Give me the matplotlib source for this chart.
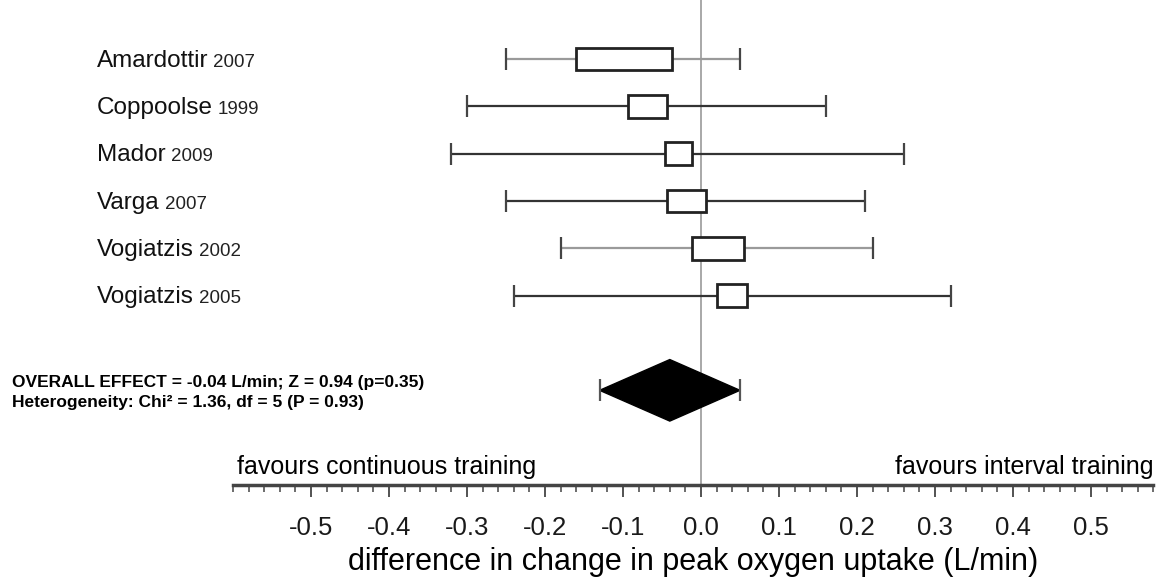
import matplotlib
matplotlib.use('Agg')
import matplotlib.pyplot as plt
from matplotlib import font_manager
from matplotlib.ticker import MultipleLocator

# études (nom, année) et intervalles
etudes = ['Amardottir', 'Coppoolse', 'Mador', 'Varga', 'Vogiatzis', 'Vogiatzis']
annees = ['2007', '1999', '2009', '2007', '2002', '2005']
ic_bas = [-0.25, -0.30, -0.32, -0.25, -0.18, -0.24]
ic_haut = [0.05, 0.16, 0.26, 0.21, 0.22, 0.32]
boite_bas = [-0.16, -0.094, -0.046, -0.044, -0.012, 0.021]
boite_haut = [-0.037, -0.044, -0.012, 0.006, 0.055, 0.059]
gris = [True, False, False, False, True, False]

# effet global
effet_est = -0.04
effet_bas = -0.13
effet_haut = 0.05

ticks_maj = [-0.5, -0.4, -0.3, -0.2, -0.1, 0.0, 0.1, 0.2, 0.3, 0.4, 0.5]
labels_maj = ['-0.5', '-0.4', '-0.3', '-0.2', '-0.1', '0.0', '0.1', '0.2', '0.3', '0.4', '0.5']

noms_fontes = {f.name for f in font_manager.fontManager.ttflist}
etroite = 'Liberation Sans Narrow' if 'Liberation Sans Narrow' in noms_fontes else 'Liberation Sans'
plt.rcParams['font.family'] = ['Liberation Sans', 'DejaVu Sans']

fig = plt.figure(figsize=(11.66, 5.86), dpi=100)
ax = fig.add_axes([233 / 1166, 1 - 485 / 586, 920.4 / 1166, 485 / 586])

ax.axvline(0, color='#9a9a9a', lw=1.2, zorder=1)

for i in range(len(etudes)):
    c = '#9a9a9a' if gris[i] else '#333333'
    ax.hlines(i, ic_bas[i], ic_haut[i], color=c, lw=1.6, zorder=2)
    ax.vlines([ic_bas[i], ic_haut[i]], i - 0.23, i + 0.23, color='#444444', lw=1.6, zorder=2)

ax.barh(range(len(etudes)), [h - b for b, h in zip(boite_bas, boite_haut)], left=boite_bas,
        height=0.48, facecolor='white', edgecolor='#222222', lw=2, zorder=3)

# losange de l'effet global
yd = 7
ax.fill([effet_bas, effet_est, effet_haut, effet_est], [yd, yd - 0.65, yd, yd + 0.65],
        color='black', zorder=3)
ax.vlines([effet_bas, effet_haut], yd - 0.23, yd + 0.23, color='#555555', lw=1.6, zorder=3)

ax.set_xlim(-0.6, 0.58)
ax.set_ylim(9, -1.245)
ax.set_yticks([])
for s in ['top', 'right', 'left']:
    ax.spines[s].set_visible(False)
ax.spines['bottom'].set_linewidth(2.5)
ax.spines['bottom'].set_color('#444444')
ax.set_xticks(ticks_maj)
ax.set_xticklabels(labels_maj)
ax.xaxis.set_minor_locator(MultipleLocator(0.02))
ax.tick_params(axis='x', which='major', length=8.5, width=1.3, color='#444444',
               labelsize=18.5, pad=14, labelcolor='#1a1a1a')
ax.tick_params(axis='x', which='minor', length=5, width=1.1, color='#444444')
ax.patch.set_alpha(0)

ax.set_xlabel('difference in change in peak oxygen uptake (L/min)', fontsize=22, labelpad=5)

ax.text(-0.595, 8.61, 'favours continuous training', family=etroite, fontsize=18,
        ha='left', va='center')
ax.text(0.58, 8.61, 'favours interval training', family=etroite, fontsize=18,
        ha='right', va='center')

fig.text(12 / 1166, 1 - 382 / 586, 'OVERALL EFFECT = -0.04 L/min; Z = 0.94 (p=0.35)',
         family=etroite, fontsize=12.5, fontweight='bold', va='center')
fig.text(12 / 1166, 1 - 403 / 586, 'Heterogeneity: Chi² = 1.36, df = 5 (P = 0.93)',
         family=etroite, fontsize=12.5, fontweight='bold', va='center')

# noms des études puis année en plus petit
textes = []
for i, nom in enumerate(etudes):
    t = ax.annotate(nom, xy=(97 / 1166, i + 0.16), xycoords=('figure fraction', 'data'),
                    fontsize=17.5, ha='left', va='baseline', color='#111111')
    textes.append(t)

fig.canvas.draw()
rendu = fig.canvas.get_renderer()
for i, t in enumerate(textes):
    bb = t.get_window_extent(rendu)
    ax.annotate(annees[i], xy=((bb.x1 + 5) / 1166, i + 0.16), xycoords=('figure fraction', 'data'),
                fontsize=13.5, ha='left', va='baseline', color='#222222')

fig.savefig('out.png', dpi=100)
